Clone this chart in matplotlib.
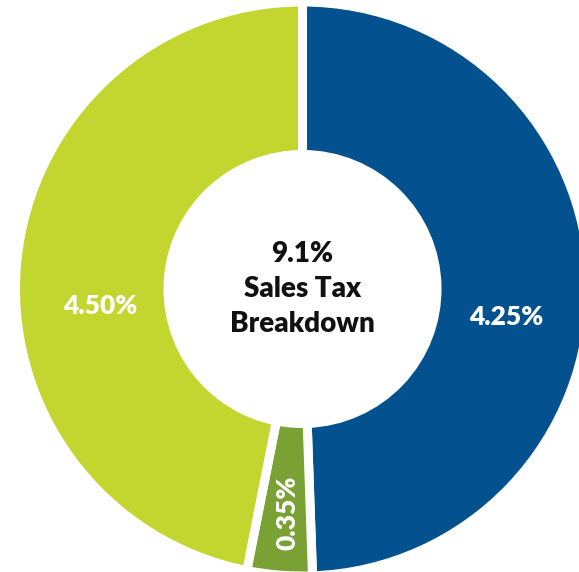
import matplotlib
matplotlib.use('Agg')
import matplotlib.pyplot as plt

# Data (slice sizes in degrees as drawn, labels as printed)
slice_names = ['State', 'District', 'Local']
slice_degrees = [178.0, 13.2, 168.8]
slice_labels = ['4.25%', '0.35%', '4.50%']
slice_colors = ['#03528F', '#79A133', '#C2D62F']
center_lines = ['9.1%', 'Sales Tax', 'Breakdown']

plt.rcParams['font.family'] = ['Lato', 'DejaVu Sans']

fig = plt.figure(figsize=(5.79, 5.72), dpi=100)
ax = fig.add_axes([0, 0, 1, 1])

# work in pixel-like data units, y measured up from the bottom
cx, cy = 302.5, 572 - 289
ax.pie(slice_degrees, colors=slice_colors, startangle=90, counterclock=False,
       center=(cx, cy), radius=287, frame=True,
       wedgeprops=dict(width=152.5, edgecolor='white', linewidth=6.5))

ax.set_xlim(0, 579)
ax.set_ylim(0, 572)
ax.set_aspect('equal')
ax.axis('off')

# centre title
for line, base in zip(center_lines, [310.5, 275, 240]):
    ax.text(cx, base, line, ha='center', va='baseline', fontsize=20,
            fontweight='heavy', color='#111111')

# slice labels
ax.text(506, 572 - 325, slice_labels[0], ha='center', va='baseline',
        fontsize=19, fontweight='heavy', color='white')
ax.text(288, 572 - 513, slice_labels[1], ha='center', va='center',
        rotation=90, fontsize=19, fontweight='heavy', color='white')
ax.text(100, 572 - 314, slice_labels[2], ha='center', va='baseline',
        fontsize=19, fontweight='heavy', color='white')

fig.savefig('out.png', dpi=100)
